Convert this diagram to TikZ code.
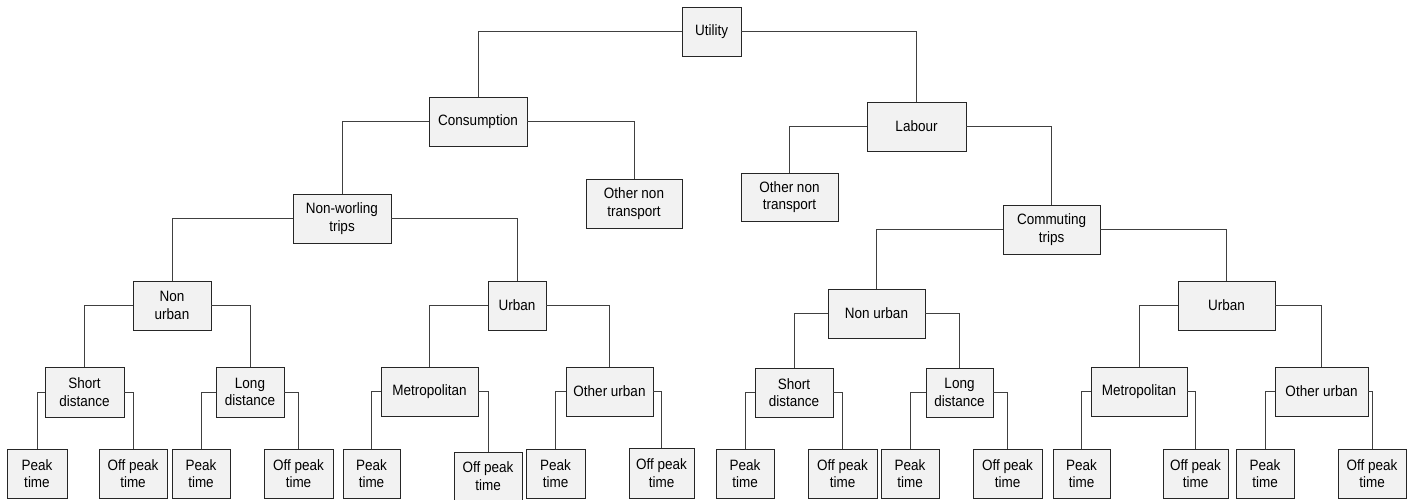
\documentclass[tikz,border=0pt]{standalone}
\usepackage{fontspec}
\setmainfont{Liberation Sans}[FakeStretch=0.9]
\begin{document}
\begin{tikzpicture}[x=1pt,y=-1pt,
  box/.style={draw=black!85, fill=black!5, line width=0.9pt, inner sep=0pt,
    align=center, font=\fontsize{15}{17.5}\selectfont},
  link/.style={draw=black!75, line width=0.9pt}]
\useasboundingbox (0,0) rectangle (1415,499);
% node: centre x, centre y, width, height
\newcommand{\bx}[6]{\node[box, minimum width=#4pt, minimum height=#5pt] (#1) at (#2,#3) {#6};}
% top levels
\bx{util}{711.5}{31.5}{59}{49}{Utility}
\bx{cons}{478}{121.5}{98}{49}{Consumption}
\bx{lab}{916.5}{126.5}{99}{49}{Labour}
\bx{ontl}{634}{203.5}{96}{49}{Other non\\transport}
\bx{ontr}{789.5}{197}{97}{48}{Other non\\transport}
\bx{nwt}{342}{218.5}{98}{49}{Non-worling\\trips}
\bx{ct}{1051.5}{229.5}{97}{49}{Commuting\\trips}
% regions
\bx{nul}{172}{305.5}{78}{49}{Non\\urban}
\bx{ul}{517}{305.5}{58}{49}{Urban}
\bx{nur}{876.5}{313.5}{97}{49}{Non urban}
\bx{ur}{1226.5}{305.5}{97}{49}{Urban}
% distance / area
\bx{sdl}{84.5}{392}{79}{50}{Short\\distance}
\bx{ldl}{250}{392}{68}{50}{Long\\distance}
\bx{mel}{429.5}{391.5}{97}{49}{Metropolitan}
\bx{oul}{609.5}{391.5}{87}{49}{Other urban}
\bx{sdr}{794}{392.5}{78}{49}{Short\\distance}
\bx{ldr}{959.5}{392.5}{67}{49}{Long\\distance}
\bx{mer}{1139}{391.5}{96}{49}{Metropolitan}
\bx{our}{1321.5}{391.5}{93}{49}{Other urban}
% time of day
\bx{p1}{37}{473.5}{60}{49}{Peak\\time}
\bx{o1}{133}{473.5}{68}{49}{Off peak\\time}
\bx{p2}{201}{473.5}{58}{49}{Peak\\time}
\bx{o2}{298.5}{473.5}{69}{49}{Off peak\\time}
\bx{p3}{371.5}{473.5}{57}{49}{Peak\\time}
\bx{o3}{488}{476}{68}{48}{Off peak\\time}
\bx{p4}{555.5}{473.5}{59}{49}{Peak\\time}
\bx{o4}{661.5}{473}{65}{50}{Off peak\\time}
\bx{p5}{745}{473.5}{58}{49}{Peak\\time}
\bx{o5}{842.5}{473.5}{69}{49}{Off peak\\time}
\bx{p6}{910}{473.5}{58}{49}{Peak\\time}
\bx{o6}{1007.5}{473.5}{69}{49}{Off peak\\time}
\bx{p7}{1081.5}{473.5}{57}{49}{Peak\\time}
\bx{o7}{1195.5}{473.5}{65}{49}{Off peak\\time}
\bx{p8}{1265}{473.5}{58}{49}{Peak\\time}
\bx{o8}{1372}{473.5}{68}{49}{Off peak\\time}
% elbow connectors
\foreach \parent/\lchild/\rchild in {util/cons/lab, cons/nwt/ontl, lab/ontr/ct,
    nwt/nul/ul, ct/nur/ur, nul/sdl/ldl, ul/mel/oul, nur/sdr/ldr, ur/mer/our,
    sdl/p1/o1, ldl/p2/o2, mel/p3/o3, oul/p4/o4,
    sdr/p5/o5, ldr/p6/o6, mer/p7/o7, our/p8/o8}{
  \draw[link] (\parent.west) -| (\lchild.north);
  \draw[link] (\parent.east) -| (\rchild.north);
}
\end{tikzpicture}
\end{document}
